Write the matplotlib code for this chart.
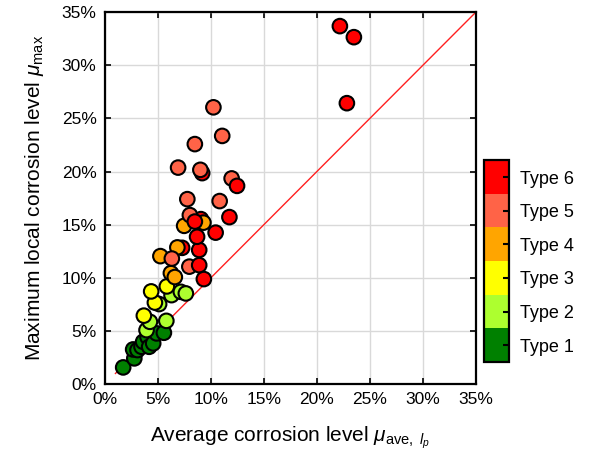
import matplotlib
matplotlib.use("Agg")
from matplotlib import pyplot as plt
from matplotlib.colors import ListedColormap, BoundaryNorm
from matplotlib.ticker import PercentFormatter
import numpy as np

plt.rcParams["font.family"] = ["Liberation Sans", "DejaVu Sans"]
plt.rcParams["mathtext.fontset"] = "custom"
plt.rcParams["mathtext.rm"] = "Liberation Sans"
plt.rcParams["mathtext.it"] = "Liberation Sans:italic"

type_names = ["Type 1", "Type 2", "Type 3", "Type 4", "Type 5", "Type 6"]
type_colors = ["#008000", "#adff2f", "#ffff00", "#ffa500", "#ff6347", "#ff0000"]

# average corrosion level (%), max local corrosion level (%), type 1..6
mu_ave = [
    1.73, 2.78, 2.67, 3.08, 3.46, 3.61, 4.03, 4.18, 4.56, 4.88, 5.57,
    3.93, 4.25, 5.80, 5.12, 6.29, 7.17, 7.64,
    3.68, 4.72, 4.37, 5.85,
    7.29, 9.18,
    5.24, 6.23, 6.60, 6.84, 7.48, 9.06, 9.30,
    6.32, 7.97, 8.02, 7.78, 10.83, 6.91, 9.01, 11.96, 8.49, 11.07, 10.24,
    8.90, 8.90, 9.34, 8.70, 10.45, 8.49, 11.75, 12.47,
    22.17, 23.49, 22.83,
]
mu_max = [
    1.57, 2.42, 3.26, 3.20, 3.51, 3.98, 4.42, 3.51, 3.83, 4.77, 4.83,
    5.08, 5.86, 5.95, 7.53, 8.37, 8.68, 8.53,
    6.44, 7.67, 8.72, 9.19,
    12.82, 19.85,
    12.04, 10.44, 10.07, 12.86, 14.89, 15.52, 15.19,
    11.81, 11.05, 15.90, 17.40, 17.22, 20.37, 20.16, 19.35, 22.58, 23.35, 26.04,
    12.62, 11.19, 9.88, 13.86, 14.25, 15.29, 15.71, 18.65,
    33.68, 32.64, 26.43,
]
ctype = [
    1, 1, 1, 1, 1, 1, 1, 1, 1, 1, 1,
    2, 2, 2, 2, 2, 2, 2,
    3, 3, 3, 3,
    6, 6,
    4, 4, 4, 4, 4, 6, 4,
    5, 5, 5, 5, 5, 5, 5, 5, 5, 5, 5,
    6, 6, 6, 6, 6, 6, 6, 6,
    6, 6, 6,
]

cmap = ListedColormap(type_colors)
norm = BoundaryNorm(np.arange(0.5, 7.5, 1.0), cmap.N)

fig = plt.figure(figsize=(5.89, 4.65), dpi=100)
ax = fig.add_axes([0.178, 0.174, 0.630, 0.800])

ax.grid(True, color="#d9d9d9", linewidth=1.0, zorder=0)
ax.plot([1, 35], [1, 35], color="#ff2020", linewidth=1.0, zorder=2)
sc = ax.scatter(mu_ave, mu_max, c=ctype, cmap=cmap, norm=norm, s=110,
                edgecolors="black", linewidths=1.5, zorder=3)

ax.set_xlim(0, 35)
ax.set_ylim(0, 35)
ax.set_xticks(np.arange(0, 36, 5))
ax.set_yticks(np.arange(0, 36, 5))
ax.xaxis.set_major_formatter(PercentFormatter(decimals=0))
ax.yaxis.set_major_formatter(PercentFormatter(decimals=0))
ax.tick_params(direction="in", length=4, width=1.2, top=True, right=True,
               labelsize=12.5, pad=6)
for sp in ax.spines.values():
    sp.set_linewidth(1.6)

ax.set_xlabel(r"Average corrosion level $\mu_{\mathrm{ave,}\ l_p}$",
              fontsize=15, labelpad=12)
ax.set_ylabel(r"Maximum local corrosion level $\mu_{\mathrm{max}}$",
              fontsize=15, labelpad=11)

cax = fig.add_axes([0.822, 0.2215, 0.042, 0.434])
cb = fig.colorbar(sc, cax=cax, ticks=range(1, 7))
cb.ax.minorticks_off()
cb.ax.set_yticklabels(type_names)
cb.ax.tick_params(direction="in", length=4, width=1.5, color="black",
                  labelsize=13, pad=8)
cb.outline.set_linewidth(1.6)

fig.savefig("out.png", dpi=100)
